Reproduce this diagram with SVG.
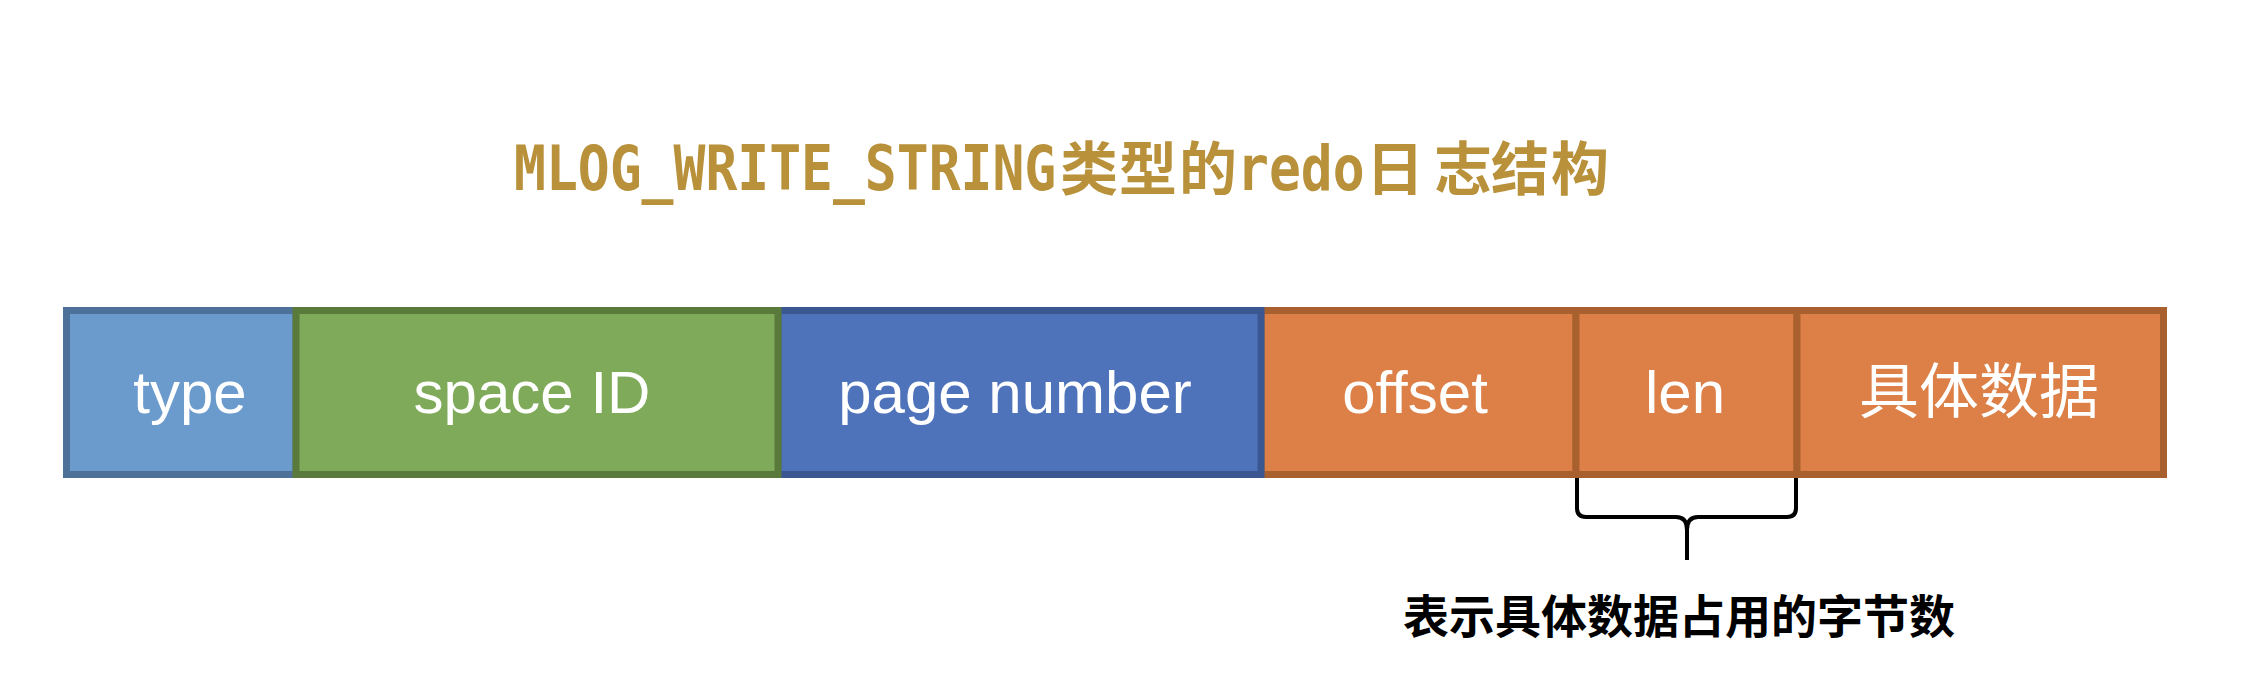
<svg xmlns="http://www.w3.org/2000/svg" width="2254" height="696" viewBox="0 0 2254 696">
  <style>
    .title { font-weight: bold; fill: #b8913a; }
    .mono { font-family: "DejaVu Sans Mono", "Liberation Mono", monospace; font-size: 53px; }
    .tcjk { font-family: "Noto Sans CJK SC", sans-serif; font-size: 58px; }
    .box { stroke-width: 7; }
    .lbl { font-family: "Liberation Sans", Arial, "Noto Sans CJK SC", sans-serif; font-size: 60px; fill: #ffffff; text-anchor: middle; }
    .lblcjk { font-family: "Noto Sans CJK SC", sans-serif; font-size: 60px; fill: #ffffff; text-anchor: middle; }
    .note { font-family: "Noto Sans CJK SC", sans-serif; font-weight: bold; font-size: 46px; fill: #000000; }
    .brace { fill: none; stroke: #000000; stroke-width: 4; stroke-linejoin: round; stroke-linecap: butt; }
  </style>
  <rect width="2254" height="696" fill="#ffffff"/>

  <g id="title">
    <text class="title mono" x="514" y="163.8" transform="scale(1,1.16)">MLOG_WRITE_STRING</text>
    <text class="title tcjk" y="190"><tspan x="1060">类</tspan><tspan x="1119">型</tspan><tspan x="1179">的</tspan></text>
    <text class="title mono" x="1237" y="163.8" transform="scale(1,1.16)">redo</text>
    <text class="title tcjk" y="190"><tspan x="1366">日</tspan><tspan x="1434">志</tspan><tspan x="1491">结</tspan><tspan x="1551">构</tspan></text>
  </g>

  <g id="node-type">
    <rect class="box" x="66.5" y="310.5" width="229.5" height="164" fill="#6b9bcd" stroke="#4d7199"/>
    <text class="lbl" x="190" y="413">type</text>
  </g>
  <g id="node-offset">
    <rect class="box" x="1261" y="310.5" width="315" height="164" fill="#dc8048" stroke="#a9602f"/>
    <text class="lbl" x="1415" y="413">offset</text>
  </g>
  <g id="node-len">
    <rect class="box" x="1576" y="310.5" width="221" height="164" fill="#dc8048" stroke="#a9602f"/>
    <text class="lbl" x="1685" y="413">len</text>
  </g>
  <g id="node-data">
    <rect class="box" x="1797" y="310.5" width="366.5" height="164" fill="#dc8048" stroke="#a9602f"/>
    <text class="lblcjk" x="1979" y="413">具体数据</text>
  </g>
  <g id="node-page-number">
    <rect class="box" x="778" y="310.5" width="483" height="164" fill="#4e73ba" stroke="#3b5791"/>
    <text class="lbl" x="1015" y="413">page number</text>
  </g>
  <g id="node-space-id">
    <rect class="box" x="296" y="310.5" width="482" height="164" fill="#7faa59" stroke="#5a7a3c"/>
    <text class="lbl" x="532" y="413">space ID</text>
  </g>

  <g id="connectors">
    <path class="brace" d="M1577,478 V508 Q1577,517 1586,517 H1676 Q1687,517 1687,530 V560"/>
    <path class="brace" d="M1796,478 V508 Q1796,517 1787,517 H1698 Q1687,517 1687,530"/>
  </g>

  <g id="note">
    <text class="note" x="1403" y="633" textLength="552">表示具体数据占用的字节数</text>
  </g>
</svg>
